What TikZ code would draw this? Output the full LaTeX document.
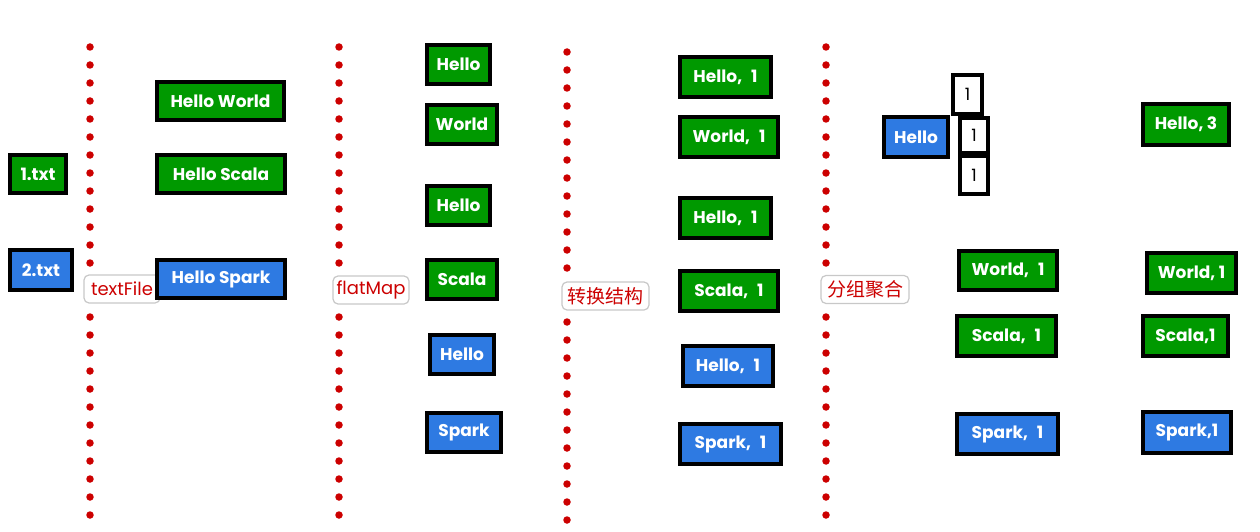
\documentclass[tikz,border=0pt]{standalone}
\usepackage{fontspec}
\setmainfont{Poppins}
\newfontfamily\cjk{Noto Sans CJK SC}
\definecolor{bgreen}{RGB}{0,153,0}
\definecolor{bblue}{RGB}{46,122,226}
\definecolor{lred}{RGB}{204,0,0}
\definecolor{lgray}{RGB}{200,200,200}
\tikzset{
  box/.style={draw=black, line width=3.4pt, inner sep=0pt, text=white,
    font=\fontsize{17}{17}\selectfont\bfseries, minimum height=38pt},
  gbox/.style={box, fill=bgreen},
  bbox/.style={box, fill=bblue},
  nbox/.style={box, fill=white, text=black, font=\fontsize{17}{17}\selectfont},
  lab/.style={draw=lgray, line width=1.2pt, rounded corners=5pt, fill=white,
    text=lred, inner sep=0pt, minimum height=28pt, font=\fontsize{18}{18}\selectfont},
  divider/.style={draw=lred, line width=7.5pt, line cap=round, dash pattern=on 0pt off 18pt}
}
\begin{document}
\begin{tikzpicture}[x=1pt,y=-1pt]
\useasboundingbox[fill=white] (0,0) rectangle (1260,532);
% dividers
\coordinate (d1a) at (90,47);  \coordinate (d1b) at (90,532);
\coordinate (d2a) at (339,47); \coordinate (d2b) at (339,532);
\coordinate (d3a) at (567,52); \coordinate (d3b) at (567,532);
\coordinate (d4a) at (826,47); \coordinate (d4b) at (826,532);
\draw[divider] (d1a) -- (d1b);
\draw[divider] (d2a) -- (d2b);
\draw[divider] (d3a) -- (d3b);
\draw[divider] (d4a) -- (d4b);
% labels
\node[lab, minimum width=76pt] (lt) at (122,289) {textFile};
\node[lab, minimum width=76pt] (lf) at (371,290) {flatMap};
\node[lab, minimum width=87pt, font=\cjk\fontsize{19}{19}\selectfont] (lc) at (605.5,296) {转换结构};
\node[lab, minimum width=88pt, font=\cjk\fontsize{19}{19}\selectfont] (lg) at (865,289.5) {分组聚合};
% files
\node[gbox, minimum width=56pt] (f1) at (38,174) {1.txt};
\node[bbox, minimum width=62pt, minimum height=40pt] (f2) at (41,270) {2.txt};
% lines
\node[gbox, minimum width=127pt] (l1) at (220.5,101) {Hello World};
\node[gbox, minimum width=128pt] (l2) at (221,174) {Hello Scala};
\node[bbox, minimum width=128pt] (l3) at (221,279) {Hello Spark};
% words
\node[gbox, minimum width=63pt, minimum height=39pt] (w1) at (458.5,64.5) {Hello};
\node[gbox, minimum width=70pt, minimum height=39pt] (w2) at (462,124.5) {World};
\node[gbox, minimum width=63pt, minimum height=39pt] (w3) at (458.5,205.5) {Hello};
\node[gbox, minimum width=70pt, minimum height=39pt] (w4) at (462,279.5) {Scala};
\node[bbox, minimum width=64pt, minimum height=39pt] (w5) at (462,354.5) {Hello};
\node[bbox, minimum width=74pt, minimum height=39pt] (w6) at (464,432.5) {Spark};
% pairs
\node[gbox, minimum width=91pt, minimum height=40pt] (p1) at (725.5,77) {Hello,\hspace{9pt}1};
\node[gbox, minimum width=98pt, minimum height=40pt] (p2) at (729,137) {World,\hspace{9pt}1};
\node[gbox, minimum width=91pt, minimum height=40pt] (p3) at (725.5,218) {Hello,\hspace{9pt}1};
\node[gbox, minimum width=98pt, minimum height=40pt] (p4) at (729,291) {Scala,\hspace{9pt}1};
\node[bbox, minimum width=90pt, minimum height=40pt] (p5) at (728,366) {Hello,\hspace{9pt}1};
\node[bbox, minimum width=101pt, minimum height=40pt] (p6) at (730.5,444) {Spark,\hspace{9pt}1};
% grouped
\node[bbox, minimum width=64pt, minimum height=40pt] (gh) at (916,137) {Hello};
\node[nbox, minimum width=29pt, minimum height=39pt] (n1) at (967.5,94.5) {1};
\node[nbox, minimum width=28pt, minimum height=35pt] (n2) at (974,135.5) {1};
\node[nbox, minimum width=28pt, minimum height=38pt] (n3) at (974,175) {1};
\node[gbox, minimum width=98pt, minimum height=39pt] (gw) at (1008,270.5) {World,\hspace{9pt}1};
\node[gbox, minimum width=99pt, minimum height=40pt] (gs) at (1006.5,336) {Scala,\hspace{9pt}1};
\node[bbox, minimum width=101pt, minimum height=40pt] (gk) at (1007.5,434) {Spark,\hspace{9pt}1};
% results
\node[gbox, minimum width=86pt, minimum height=41pt] (r1) at (1186,124.5) {Hello, 3};
\node[gbox, minimum width=89pt, minimum height=40pt] (r2) at (1191.5,273) {World, 1};
\node[gbox, minimum width=85pt, minimum height=40pt] (r3) at (1185.5,336) {Scala,1};
\node[bbox, minimum width=88pt, minimum height=41pt] (r4) at (1187,432.5) {Spark,1};
\end{tikzpicture}
\end{document}
